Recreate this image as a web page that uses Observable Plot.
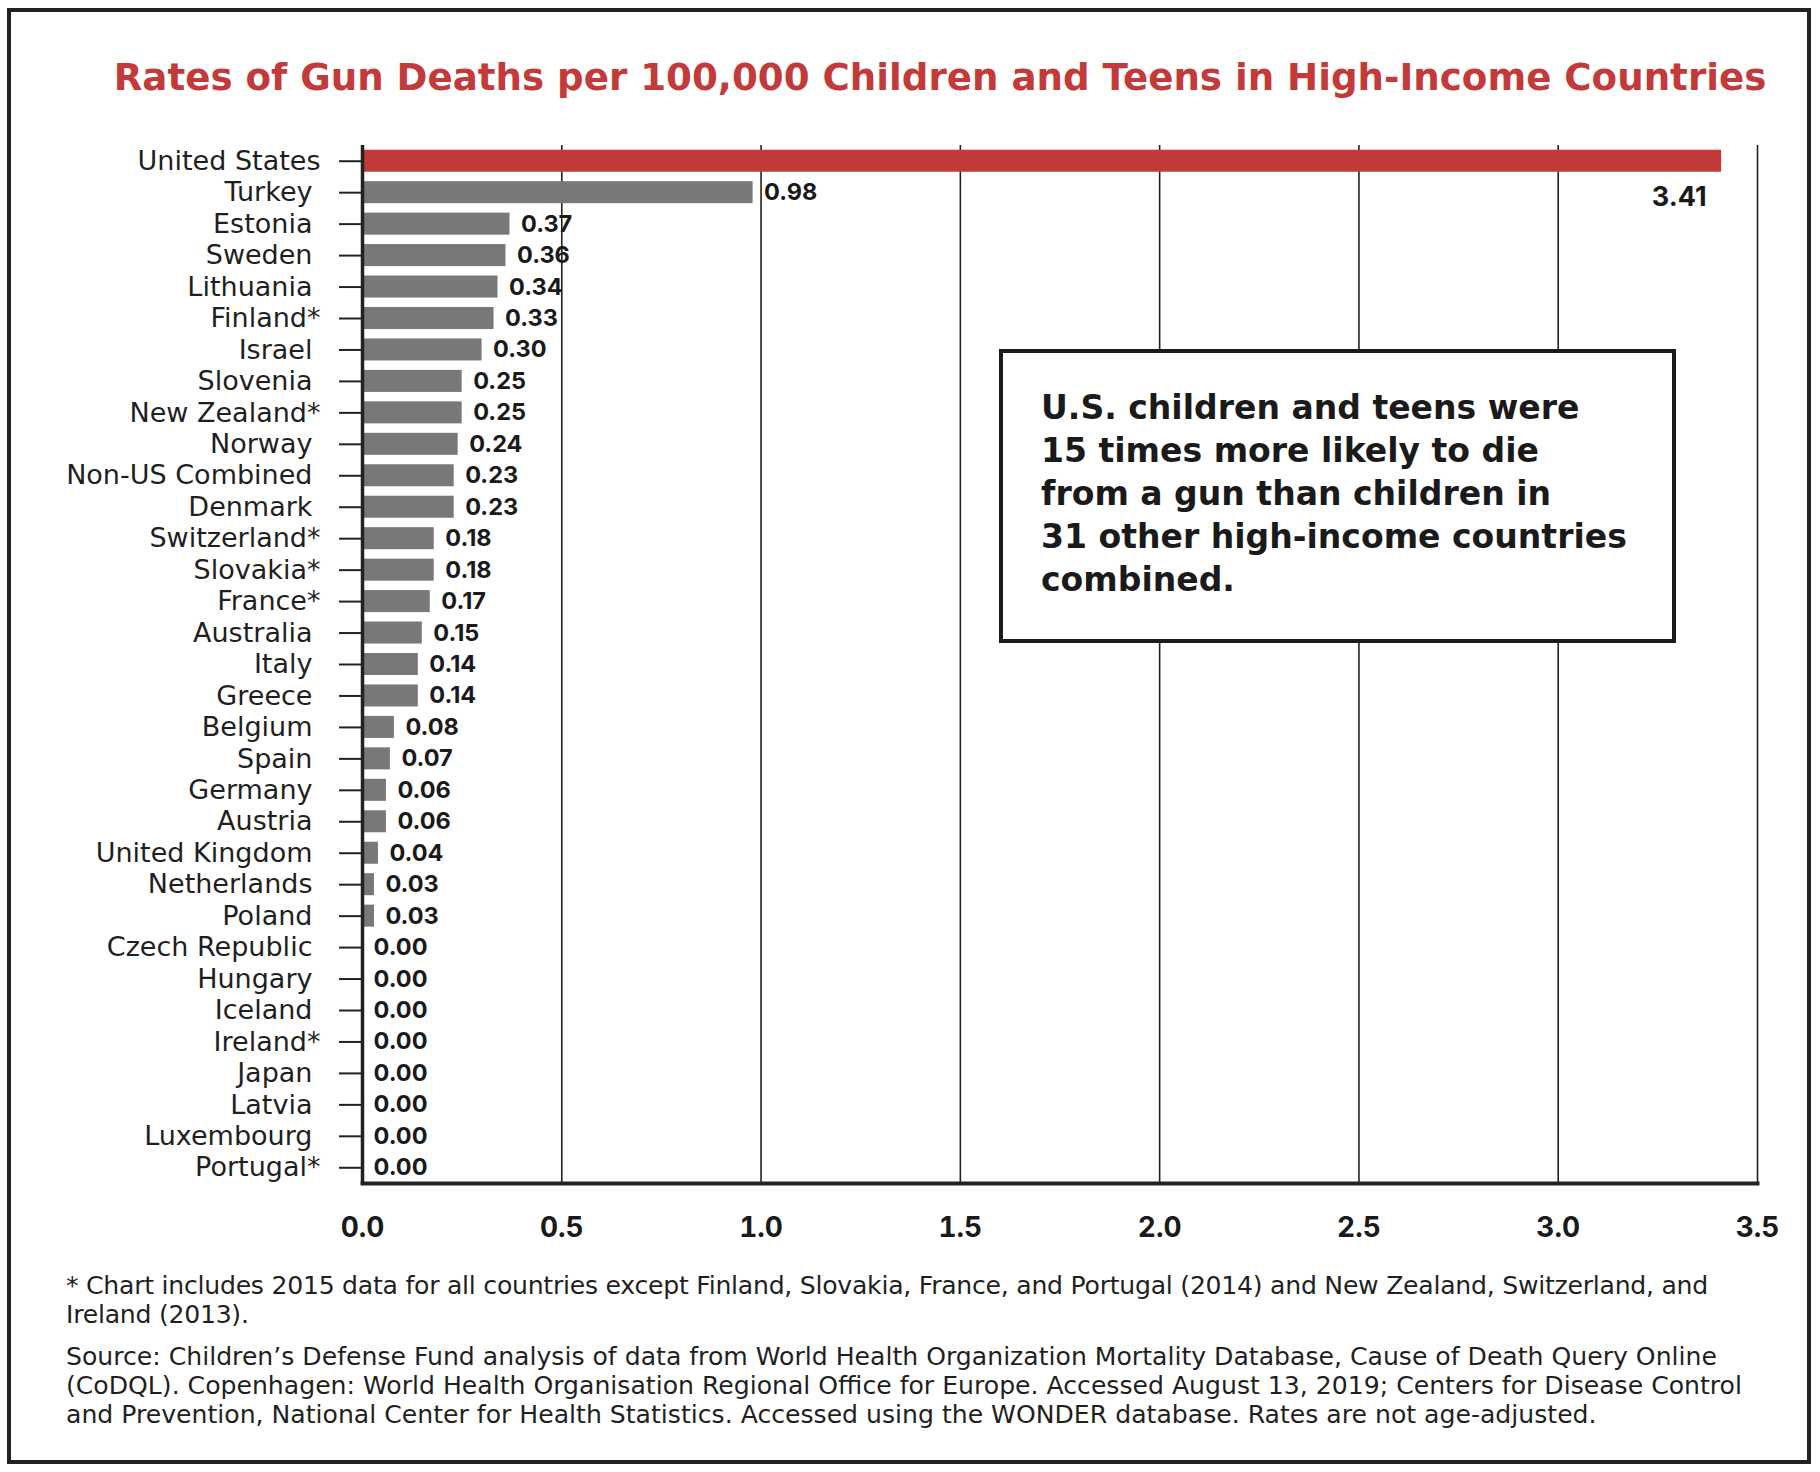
<!DOCTYPE html>
<html>
<head>
<meta charset="utf-8">
<script src="https://cdn.jsdelivr.net/npm/d3@7"></script>
<script src="https://cdn.jsdelivr.net/npm/@observablehq/plot@0.6"></script>
<style>
  html, body { margin: 0; padding: 0; background: #fff; }
  #page { position: relative; width: 1820px; height: 1472px; font-family: "DejaVu Sans", sans-serif; color: #1f1f1f; overflow: hidden; }
  #border { position: absolute; left: 7px; top: 8px; width: 1804px; height: 1456px; box-sizing: border-box; border: 4px solid #222; }
  #title { position: absolute; left: 60px; width: 1760px; top: 56px; line-height: 42px; text-align: center; font-weight: 700; color: #c23b3a; white-space: nowrap; }
  #chart { position: absolute; left: 0; top: 0; }
  #note { position: absolute; left: 999px; top: 349px; width: 677px; height: 294px; box-sizing: border-box; border: 4px solid #1a1a1a; background: #fff; padding: 33px 0 0 38px; line-height: 43px; font-weight: 700; color: #1a1a1a; white-space: nowrap; }
  .foot { position: absolute; left: 66px; line-height: 29px; color: #1f1f1f; white-space: nowrap; }
  #foot1 { letter-spacing: -0.25px; }
</style>
</head>
<body>
<div id="page">
  <div id="border"></div>
  <div id="chart"></div>
  <div id="title">Rates of Gun Deaths per 100,000 Children and Teens in High-Income Countries</div>
  <div id="note">U.S. children and teens were<br>15 times more likely to die<br>from a gun than children in<br>31 other high-income countries<br>combined.</div>
  <div class="foot" id="foot1" style="top:1271px">* Chart includes 2015 data for all countries except Finland, Slovakia, France, and Portugal (2014) and New Zealand, Switzerland, and<br>Ireland (2013).</div>
  <div class="foot" id="foot2" style="top:1342px">Source: Children’s Defense Fund analysis of data from World Health Organization Mortality Database, Cause of Death Query Online<br>(CoDQL). Copenhagen: World Health Organisation Regional Office for Europe. Accessed August 13, 2019; Centers for Disease Control<br>and Prevention, National Center for Health Statistics. Accessed using the WONDER database. Rates are not age-adjusted.</div>
</div>
<script>
const countries = ["United States","Turkey","Estonia","Sweden","Lithuania","Finland*","Israel","Slovenia","New Zealand*","Norway","Non-US Combined","Denmark","Switzerland*","Slovakia*","France*","Australia","Italy","Greece","Belgium","Spain","Germany","Austria","United Kingdom","Netherlands","Poland","Czech Republic","Hungary","Iceland","Ireland*","Japan","Latvia","Luxembourg","Portugal*"];
const rates = [3.41,0.98,0.37,0.36,0.34,0.33,0.30,0.25,0.25,0.24,0.23,0.23,0.18,0.18,0.17,0.15,0.14,0.14,0.08,0.07,0.06,0.06,0.04,0.03,0.03,0.00,0.00,0.00,0.00,0.00,0.00,0.00,0.00];
const xTicks = [0, 0.5, 1.0, 1.5, 2.0, 2.5, 3.0, 3.5];
const highlight = "United States";

// font sizing: fit a sample string to the width it occupies in the reference
const TEXT_FONT = "'DejaVu Sans', sans-serif";
const NUM_FONT = "Inter, 'Noto Sans', sans-serif";
const ctx = document.createElement("canvas").getContext("2d");
function fit(text, weight, family, target, lo, hi) {
  ctx.font = `${weight} 100px ${family}`;
  const s = 100 * target / ctx.measureText(text).width;
  return Math.max(lo, Math.min(hi, s));
}
const titleSize = fit("Rates of Gun Deaths per 100,000 Children and Teens in High-Income Countries", 700, TEXT_FONT, 1653, 30, 44);
const noteSize = fit("31 other high-income countries", 700, TEXT_FONT, 586, 26, 36);
const footSize = fit("Source: Children’s Defense Fund analysis of data from World Health Organization Mortality Database, Cause of Death Query Online", 400, TEXT_FONT, 1652, 18, 27);
const labelSize = fit("United States", 400, TEXT_FONT, 183, 22, 30);
document.getElementById("title").style.fontSize = titleSize + "px";
document.getElementById("note").style.fontSize = noteSize + "px";
document.querySelectorAll(".foot").forEach(e => e.style.fontSize = footSize + "px");

const data = countries.map((c, i) => ({country: c, rate: rates[i]}));
const others = data.filter(d => d.country !== highlight);
const us = data.filter(d => d.country === highlight);
const wideLabels = countries.filter(c => c.endsWith("*") || c === highlight);
const plainLabels = countries.filter(c => !wideLabels.includes(c));

const RED = "#c23b3a", GRAY = "#787878", INK = "#222";

const chart = Plot.plot({
  width: 1820,
  height: 1260,
  marginLeft: 362,
  marginRight: 63,
  marginTop: 145,
  marginBottom: 77,
  style: {fontFamily: NUM_FONT, background: "transparent", overflow: "visible"},
  x: {domain: [0, 3.5], axis: null},
  y: {domain: countries, paddingInner: 0.3, paddingOuter: 0.15, round: false, axis: null},
  color: {domain: ["us", "other"], range: [RED, GRAY]},
  marks: [
    Plot.gridX(xTicks, {stroke: INK, strokeOpacity: 1, strokeWidth: 1.6}),
    Plot.barX(data, {x: "rate", y: "country", fill: d => d.country === highlight ? "us" : "other"}),
    Plot.ruleX([0], {stroke: INK, strokeWidth: 3.5}),
    Plot.frame({anchor: "bottom", stroke: INK, strokeWidth: 4}),
    Plot.axisY(plainLabels, {label: null, tickSize: 23, tickPadding: 27, fontSize: labelSize, fontFamily: TEXT_FONT, fill: "#1f1f1f", stroke: INK, strokeWidth: 2}),
    Plot.axisY(wideLabels, {label: null, tickSize: 23, tickPadding: 19, fontSize: labelSize, fontFamily: TEXT_FONT, fill: "#1f1f1f", stroke: INK, strokeWidth: 2}),
    Plot.axisX(xTicks, {label: null, tickSize: 0, tickPadding: 34, fontSize: 28, fontWeight: 700, fill: "#1a1a1a", tickFormat: d3.format(".1f")}),
    Plot.text(others, {x: "rate", y: "country", text: d => d.rate.toFixed(2), dx: 11, textAnchor: "start", fontSize: 23.5, fontWeight: 700, fill: "#1a1a1a"}),
    Plot.text(us, {x: "rate", y: "country", text: d => d.rate.toFixed(2), dx: -15, dy: 36, textAnchor: "end", fontSize: 27, fontWeight: 700, fill: "#1a1a1a"})
  ]
});
document.getElementById("chart").appendChild(chart);
</script>
</body>
</html>
